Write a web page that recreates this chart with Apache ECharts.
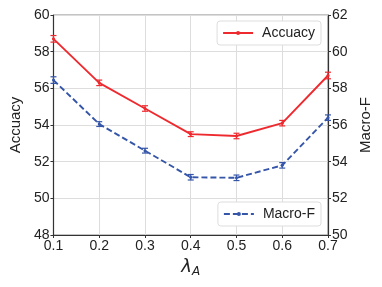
<!DOCTYPE html>
<html><head><meta charset="utf-8">
<script src="https://cdn.jsdelivr.net/npm/echarts@6/dist/echarts.min.js"></script>
<style>html,body{margin:0;padding:0;background:#fff}#c{width:382px;height:287px}</style>
</head><body><div id="c"></div>
<script>
const lambdas = ['0.1','0.2','0.3','0.4','0.5','0.6','0.7'];
const accuracy = [58.7, 56.3, 54.9, 53.5, 53.4, 54.1, 56.7];
const accuracyErr = [0.18, 0.15, 0.15, 0.13, 0.15, 0.15, 0.18];
const macroF = [58.45, 56.05, 54.6, 53.15, 53.12, 53.8, 56.4];
const macroFErr = [0.18, 0.13, 0.13, 0.15, 0.15, 0.15, 0.15];
const leftTicks = [48, 50, 52, 54, 56, 58, 60];
const rightTicks = [50, 52, 54, 56, 58, 60, 62];

const RED = '#ee2a2f', BLUE = '#3455a8';
const font = 'Liberation Sans, Arial, sans-serif';

function errSeries(vals, errs, color, yIdx) {
  return {
    type: 'custom', yAxisIndex: yIdx, silent: true, z: 3,
    data: vals.map((v, i) => [i, v - errs[i], v + errs[i]]),
    renderItem(params, api) {
      const lo = api.coord([api.value(0), api.value(1)]);
      const hi = api.coord([api.value(0), api.value(2)]);
      const w = 3;
      const st = { stroke: color, lineWidth: 1.2 };
      return { type: 'group', children: [
        { type: 'line', shape: { x1: lo[0], y1: lo[1], x2: hi[0], y2: hi[1] }, style: st },
        { type: 'line', shape: { x1: lo[0]-w, y1: lo[1], x2: lo[0]+w, y2: lo[1] }, style: st },
        { type: 'line', shape: { x1: hi[0]-w, y1: hi[1], x2: hi[0]+w, y2: hi[1] }, style: st }
      ]};
    }
  };
}

const legendBase = {
  orient: 'vertical', padding: [5, 6, 5, 5],
  backgroundColor: '#fff', borderColor: '#ddd', borderWidth: 1, borderRadius: 3,
  itemWidth: 30, itemHeight: 5, itemGap: 8,
  textStyle: { fontFamily: font, fontSize: 14, color: '#222', padding: [0, 0, 0, 4] }
};

const chart = echarts.init(document.getElementById('c'));
chart.setOption({
  animation: false,
  grid: { left: 53, right: 54, top: 15, bottom: 52, show: true, borderColor: '#888', borderWidth: 1 },
  legend: [
    Object.assign({}, legendBase, { data: ['Accuacy'], right: 61, top: 21 }),
    Object.assign({}, legendBase, { data: ['Macro-F'], right: 61, top: 202 })
  ],
  xAxis: {
    type: 'category', data: lambdas, boundaryGap: false,
    axisLine: { lineStyle: { color: '#333', width: 1.2 } },
    axisTick: { show: true, length: 3, lineStyle: { color: '#333' } },
    axisLabel: { fontFamily: font, fontSize: 14, color: '#222', margin: 4 },
    splitLine: { show: true, lineStyle: { color: '#ddd', width: 1 } },
    name: '{l|λ}{s|A}', nameLocation: 'middle', nameGap: 21,
    nameTextStyle: { rich: {
      l: { fontFamily: 'DejaVu Sans', fontStyle: 'italic', fontSize: 18, color: '#222' },
      s: { fontFamily: 'DejaVu Sans', fontStyle: 'italic', fontSize: 12, color: '#222', padding: [10, 0, 0, 0] }
    } }
  },
  yAxis: [
    { type: 'value', min: 48, max: 60, interval: 2, position: 'left',
      name: 'Accuacy', nameLocation: 'middle', nameGap: 22,
      nameTextStyle: { fontFamily: font, fontSize: 15, color: '#222' },
      axisLine: { show: true, lineStyle: { color: '#333', width: 1.2 } },
      axisTick: { show: true, length: 3, lineStyle: { color: '#333' } },
      axisLabel: { fontFamily: font, fontSize: 14, color: '#222', margin: 4,
        formatter: v => leftTicks.includes(v) ? String(v) : '' },
      splitLine: { show: true, lineStyle: { color: '#ddd', width: 1 } } },
    { type: 'value', min: 50, max: 62, interval: 2, position: 'right',
      name: 'Macro-F', nameLocation: 'middle', nameGap: 30,
      nameTextStyle: { fontFamily: font, fontSize: 15, color: '#222' },
      axisLine: { show: true, lineStyle: { color: '#333', width: 1.2 } },
      axisTick: { show: true, length: 3, lineStyle: { color: '#333' } },
      axisLabel: { fontFamily: font, fontSize: 14, color: '#222', margin: 4,
        formatter: v => rightTicks.includes(v) ? String(v) : '' },
      splitLine: { show: false } }
  ],
  series: [
    { name: 'Accuacy', type: 'line', yAxisIndex: 0, data: accuracy, z: 4,
      symbol: 'circle', symbolSize: 3, color: RED,
      lineStyle: { color: RED, width: 1.9 }, itemStyle: { color: RED } },
    errSeries(accuracy, accuracyErr, RED, 0),
    { name: 'Macro-F', type: 'line', yAxisIndex: 1, data: macroF, z: 4,
      symbol: 'circle', symbolSize: 3, color: BLUE,
      lineStyle: { color: BLUE, width: 1.9, type: [6, 3] }, itemStyle: { color: BLUE } },
    errSeries(macroF, macroFErr, BLUE, 1)
  ]
});
</script></body></html>
